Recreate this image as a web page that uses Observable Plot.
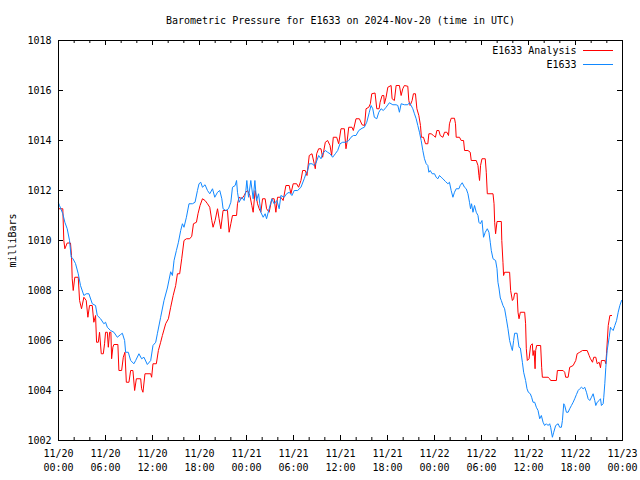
<!DOCTYPE html>
<html><head><meta charset="utf-8">
<script src="https://cdn.jsdelivr.net/npm/d3@7"></script>
<script src="https://cdn.jsdelivr.net/npm/@observablehq/plot@0.6"></script>
<style>body{margin:0;background:#fff}</style>
</head><body><div id="chart"></div><script>
const titleText = "Barometric Pressure for E1633 on 2024-Nov-20 (time in UTC)";
const yLabelText = "milliBars";
const seriesNames = ["E1633 Analysis", "E1633"];
const startUTC = Date.UTC(2024, 10, 20);

// hours since 2024-11-20 00:00 UTC
const analysisHours = [
0, 0.55, 0.68, 0.81, 1.11, 1.53, 1.66, 1.75, 1.88, 2.08,
2.52, 2.69, 2.94, 3.24, 3.54, 3.75, 3.96, 4.31, 4.51, 4.73,
4.86, 5.08, 5.24, 5.46, 5.72, 5.88, 6.01, 6.23, 6.36, 6.52,
6.69, 6.78, 6.94, 7.07, 7.58, 7.71, 8.06, 8.27, 8.48, 8.66,
8.99, 9.21, 9.50, 9.72, 9.94, 10.49, 10.61, 10.78, 11.04, 11.77,
11.89, 12.06, 12.49, 12.75, 13.04, 13.26, 13.68, 14.03, 14.32, 14.64,
14.96, 15.18, 15.47, 15.73, 16.02, 16.33, 16.75, 17.01, 17.23, 17.61,
17.81, 18.07, 18.38, 18.71, 19.02, 19.31, 19.57, 19.73, 19.99, 20.30,
20.50, 20.72, 21.01, 21.57, 21.78, 22.0, 22.21, 22.73, 22.85, 23.06,
23.40, 23.70, 23.92, 24.13, 24.43, 24.68, 24.85, 25.10, 25.41, 25.62,
25.83, 26.05, 26.38, 26.56, 26.89, 27.24, 27.53, 27.75, 27.96, 28.39,
28.68, 29.03, 29.45, 29.67, 29.96, 30.40, 30.65, 30.95, 31.17, 31.50,
31.72, 32.01, 32.36, 32.65, 32.78, 32.96, 33.21, 33.51, 33.72, 34.06,
34.36, 34.66, 34.87, 35.08, 35.51, 35.77, 36.06, 36.49, 36.70, 36.83,
37.05, 37.47, 37.64, 37.98, 38.41, 38.75, 39.07, 39.26, 39.61, 39.81,
39.99, 40.41, 40.63, 40.93, 41.06, 41.31, 41.53, 41.60, 41.82, 42.04,
42.46, 42.59, 42.88, 43.10, 43.52, 43.74, 43.95, 44.16, 44.59, 44.72,
44.89, 45.14, 45.31, 45.57, 45.75, 46.0, 46.21, 46.33, 46.59, 46.85,
47.15, 47.28, 47.57, 47.87, 48.12, 48.30, 48.56, 48.73, 49.07, 49.28,
49.58, 49.79, 49.91, 50.13, 50.55, 50.68, 50.77, 51.19, 51.41, 51.71,
51.84, 52.27, 52.56, 52.69, 53.33, 53.55, 53.67, 53.75, 53.88, 54.06,
54.48, 54.61, 54.74, 55.47, 55.60, 55.68, 55.80, 55.98, 56.53, 56.59,
56.74, 56.82, 56.95, 57.59, 57.72, 57.94, 58.10, 58.23, 58.54, 58.66,
58.79, 58.96, 59.51, 59.63, 59.72, 59.85, 60.07, 60.27, 60.49, 60.58,
60.71, 60.84, 60.91, 61.04, 61.55, 61.68, 61.77, 62.50, 62.70, 62.83,
63.56, 63.69, 64.42, 64.62, 64.75, 65.06, 65.26, 65.70, 66.03, 66.21,
66.54, 66.89, 67.49, 67.74, 67.91, 68.17, 68.33, 68.59, 68.77, 69.02,
69.19, 69.31, 69.74, 69.87, 69.96, 70.18, 70.39, 70.61
];
const analysisValues = [
1011.27, 1011.27, 1010.0, 1009.67, 1009.9, 1009.9, 1009.4, 1008.47, 1008.0, 1008.53,
1008.53, 1007.6, 1007.27, 1007.73, 1007.6, 1006.93, 1007.4, 1007.4, 1006.73, 1007.0,
1005.93, 1005.93, 1006.33, 1005.47, 1005.47, 1005.87, 1006.33, 1006.33, 1005.73, 1006.33,
1006.33, 1005.27, 1005.73, 1005.84, 1005.84, 1004.8, 1004.8, 1005.33, 1005.53, 1004.33,
1004.33, 1004.8, 1004.8, 1004.0, 1004.47, 1004.47, 1004.07, 1003.93, 1004.67, 1004.67,
1004.53, 1005.07, 1005.07, 1005.6, 1005.93, 1006.2, 1006.67, 1006.87, 1007.33, 1007.8,
1008.2, 1008.67, 1008.67, 1009.27, 1010.0, 1010.07, 1010.07, 1010.17, 1010.67, 1010.73,
1011.07, 1011.4, 1011.67, 1011.6, 1011.47, 1011.33, 1010.8, 1010.53, 1010.8, 1011.27,
1010.87, 1010.47, 1011.2, 1011.2, 1010.33, 1010.67, 1011.0, 1011.0, 1011.47, 1011.73,
1011.67, 1011.8, 1011.93, 1012.0, 1011.8, 1011.4, 1011.13, 1012.0, 1011.47, 1011.27,
1011.13, 1011.67, 1011.67, 1011.27, 1011.13, 1011.67, 1011.67, 1011.13, 1011.73, 1011.73,
1011.6, 1012.2, 1012.2, 1011.87, 1012.27, 1012.27, 1012.13, 1012.4, 1012.8, 1012.8,
1012.6, 1013.4, 1013.47, 1013.07, 1012.87, 1013.47, 1013.67, 1013.67, 1013.33, 1013.93,
1014.0, 1013.8, 1013.4, 1014.13, 1014.13, 1013.87, 1014.47, 1014.47, 1013.67, 1013.93,
1014.53, 1014.53, 1014.4, 1014.87, 1014.87, 1014.63, 1014.6, 1015.27, 1015.33, 1015.47,
1015.87, 1015.9, 1015.27, 1015.27, 1015.53, 1015.8, 1015.8, 1015.47, 1015.73, 1016.13,
1016.2, 1015.67, 1015.6, 1016.2, 1016.2, 1015.8, 1016.07, 1016.2, 1016.17, 1015.6,
1015.4, 1015.6, 1015.87, 1015.87, 1015.27, 1015.0, 1014.6, 1014.13, 1014.13, 1013.87,
1013.87, 1014.27, 1014.27, 1014.2, 1014.13, 1014.4, 1014.4, 1014.2, 1014.13, 1014.33,
1014.33, 1014.2, 1014.67, 1014.89, 1014.89, 1014.67, 1014.13, 1014.13, 1014.0, 1014.0,
1013.6, 1013.6, 1013.53, 1013.2, 1013.2, 1013.0, 1012.6, 1012.4, 1013.0, 1013.27,
1013.27, 1012.73, 1011.87, 1011.87, 1011.47, 1010.73, 1010.27, 1010.76, 1010.76, 1010.0,
1009.13, 1008.6, 1008.73, 1008.73, 1008.0, 1007.6, 1007.67, 1007.89, 1007.89, 1007.13,
1006.87, 1007.13, 1007.13, 1006.67, 1005.67, 1005.2, 1005.27, 1005.8, 1005.87, 1005.4,
1005.6, 1004.87, 1005.6, 1005.8, 1005.8, 1004.93, 1004.53, 1004.53, 1004.47, 1004.4,
1004.4, 1004.8, 1004.8, 1004.73, 1004.53, 1004.53, 1004.93, 1005.0, 1005.2, 1005.47,
1005.53, 1005.6, 1005.6, 1005.4, 1005.27, 1005.13, 1005.33, 1005.33, 1005.07, 1005.13,
1004.91, 1005.2, 1005.2, 1005.07, 1005.47, 1006.6, 1007.0, 1007.0
];

const stationHours = [
0, 0.13, 0.55, 0.81, 1.11, 1.41, 1.62, 1.83, 2.17, 2.52,
2.81, 3.24, 3.54, 3.88, 4.31, 4.73, 4.95, 5.37, 5.79, 6.01,
6.23, 6.65, 7.07, 7.51, 7.93, 8.15, 8.44, 8.57, 8.91, 9.21,
9.63, 9.85, 10.27, 10.61, 10.91, 11.34, 11.77, 12.06, 12.41, 12.62,
13.04, 13.47, 13.90, 14.32, 14.54, 14.75, 15.05, 15.31, 15.6, 15.82,
16.02, 16.33, 16.66, 17.10, 17.43, 17.74, 17.94, 18.16, 18.38, 18.71,
19.02, 19.31, 19.66, 19.95, 20.30, 20.59, 20.85, 21.01, 21.36, 21.70,
22.0, 22.21, 22.55, 22.73, 22.85, 23.06, 23.40, 23.70, 23.92, 24.04,
24.26, 24.55, 24.85, 25.07, 25.28, 25.54, 25.83, 26.13, 26.38, 26.56,
26.89, 27.24, 27.53, 27.88, 28.17, 28.39, 28.81, 29.12, 29.45, 29.80,
30.09, 30.53, 30.95, 31.37, 31.59, 31.81, 32.01, 32.36, 32.65, 32.87,
33.21, 33.51, 33.72, 34.06, 34.36, 34.66, 35.0, 35.34, 35.64, 35.94,
36.28, 36.70, 37.05, 37.34, 37.64, 37.98, 38.33, 38.75, 39.04, 39.35,
39.68, 39.90, 40.12, 40.32, 40.63, 40.89, 41.18, 41.47, 41.82, 42.24,
42.68, 43.10, 43.32, 43.52, 43.74, 44.16, 44.59, 44.80, 45.02, 45.23,
45.44, 45.66, 45.87, 46.08, 46.30, 46.51, 46.72, 46.94, 47.15, 47.28,
47.45, 47.70, 48.0, 48.21, 48.43, 48.64, 48.85, 49.07, 49.40, 49.71,
49.91, 50.13, 50.35, 50.55, 50.77, 51.12, 51.28, 51.54, 51.83, 52.05,
52.27, 52.47, 52.60, 52.73, 52.91, 53.11, 53.33, 53.55, 53.67, 53.84,
54.06, 54.26, 54.48, 54.74, 54.95, 55.12, 55.25, 55.47, 55.80, 55.98,
56.10, 56.23, 56.40, 56.53, 56.74, 56.95, 57.17, 57.38, 57.59, 57.81,
57.94, 58.10, 58.23, 58.54, 58.79, 58.96, 59.22, 59.38, 59.63, 59.81,
59.98, 60.23, 60.40, 60.58, 60.79, 61.0, 61.22, 61.43, 61.64, 61.86,
62.06, 62.28, 62.50, 62.70, 62.83, 63.05, 63.22, 63.47, 63.78, 63.98,
64.20, 64.33, 64.50, 64.62, 64.84, 65.06, 65.26, 65.48, 65.70, 65.90,
66.12, 66.34, 66.54, 66.76, 66.98, 67.18, 67.40, 67.61, 67.82, 68.04,
68.25, 68.46, 68.59, 68.77, 69.02, 69.19, 69.31, 69.53, 69.61, 69.74,
69.87, 70.04, 70.30, 70.47, 70.59, 70.81, 71.02, 71.24, 71.45, 71.66,
71.88
];
const stationValues = [
1011.5, 1011.4, 1011.07, 1010.73, 1010.47, 1010.0, 1009.33, 1009.28, 1009.08, 1008.67,
1008.2, 1007.8, 1007.87, 1007.87, 1007.47, 1007.4, 1007.0, 1006.87, 1006.67, 1006.73,
1006.53, 1006.4, 1006.33, 1006.13, 1006.24, 1006.29, 1006.0, 1005.53, 1005.53, 1005.2,
1005.07, 1005.2, 1005.47, 1005.27, 1005.33, 1005.04, 1005.2, 1005.8, 1005.93, 1006.27,
1006.93, 1007.6, 1008.1, 1008.75, 1008.6, 1009.2, 1009.6, 1009.93, 1010.4, 1010.67,
1010.53, 1010.93, 1011.47, 1011.47, 1011.53, 1012.0, 1012.27, 1012.33, 1012.13, 1012.23,
1012.0, 1011.87, 1012.07, 1011.73, 1011.93, 1012.0, 1011.67, 1011.27, 1011.2, 1011.27,
1011.53, 1012.13, 1012.2, 1012.4, 1011.93, 1011.53, 1011.73, 1011.6, 1012.0, 1012.4,
1011.73, 1012.4, 1011.67, 1012.4, 1011.6, 1011.87, 1011.13, 1010.93, 1011.07, 1010.87,
1011.27, 1011.67, 1011.47, 1011.6, 1011.27, 1011.8, 1011.73, 1011.87, 1011.93, 1011.8,
1012.0, 1012.0, 1012.13, 1012.47, 1012.67, 1012.8, 1013.07, 1013.07, 1013.0, 1013.1,
1013.4, 1013.27, 1013.47, 1013.6, 1013.53, 1013.47, 1013.33, 1013.47, 1013.6, 1013.87,
1013.93, 1013.93, 1014.0, 1014.13, 1014.2, 1014.2, 1014.4, 1014.49, 1014.53, 1014.73,
1015.13, 1015.4, 1015.27, 1014.93, 1014.87, 1015.13, 1015.27, 1015.2, 1015.33, 1015.51,
1015.43, 1015.43, 1015.4, 1015.13, 1015.47, 1015.43, 1015.43, 1015.51, 1015.4, 1015.27,
1015.07, 1014.87, 1014.6, 1014.33, 1014.0, 1013.6, 1013.27, 1013.07, 1013.0, 1012.73,
1012.8, 1012.67, 1012.67, 1012.53, 1012.47, 1012.6, 1012.53, 1012.47, 1012.36, 1012.27,
1012.33, 1012.0, 1011.73, 1011.93, 1012.07, 1012.07, 1012.2, 1012.31, 1012.13, 1012.07,
1011.87, 1011.53, 1011.27, 1011.47, 1011.13, 1011.4, 1011.13, 1011.0, 1010.73, 1010.67,
1010.8, 1010.13, 1010.33, 1010.47, 1010.33, 1009.93, 1009.6, 1009.27, 1009.2, 1008.87,
1008.33, 1008.1, 1007.7, 1007.6, 1007.4, 1007.27, 1006.87, 1006.47, 1006.0, 1005.73,
1005.6, 1006.0, 1006.29, 1006.29, 1005.73, 1005.7, 1005.13, 1004.73, 1004.4, 1004.07,
1003.93, 1003.87, 1003.73, 1003.53, 1003.53, 1003.33, 1003.2, 1002.87, 1003.0, 1002.73,
1002.6, 1002.67, 1002.6, 1002.67, 1002.53, 1002.13, 1002.33, 1002.6, 1002.67, 1002.53,
1002.53, 1002.8, 1003.47, 1003.4, 1003.13, 1003.13, 1003.27, 1003.4, 1003.53, 1003.67,
1003.84, 1004.0, 1004.07, 1004.13, 1004.07, 1004.13, 1003.93, 1003.67, 1003.6, 1003.73,
1003.87, 1003.6, 1003.4, 1003.53, 1003.6, 1003.67, 1003.4, 1003.47, 1003.73, 1004.27,
1004.93, 1005.6, 1006.13, 1006.53, 1006.47, 1006.4, 1006.6, 1006.8, 1007.13, 1007.4,
1007.6
];

const yTickValues = [1002, 1004, 1006, 1008, 1010, 1012, 1014, 1016, 1018];
const xMajorHours = [0, 6, 12, 18, 24, 30, 36, 42, 48, 54, 60, 66, 72];
const xMinorHours = d3.range(0, 73, 2);

const toDate = h => new Date(startUTC + h * 3600e3);
const analysis = analysisHours.map((h, i) => ({t: toDate(h), v: analysisValues[i]}));
const station = stationHours.map((h, i) => ({t: toDate(h), v: stationValues[i]}));
const majorDates = xMajorHours.map(toDate);
const minorDates = xMinorHours.map(toDate);
const pad = n => String(n).padStart(2, "0");
const fmtTick = d => `${d.getUTCMonth() + 1}/${d.getUTCDate()}\n${pad(d.getUTCHours())}:${pad(d.getUTCMinutes())}`;

const W = 640, H = 480, mL = 58, mR = 18, mT = 40, mB = 40;
const innerW = W - mL - mR, innerH = H - mT - mB;
const red = "#ff0000", blue = "#1188ff";

const chart = Plot.plot({
  width: W, height: H,
  marginLeft: mL, marginRight: mR, marginTop: mT, marginBottom: mB,
  style: {fontFamily: "'DejaVu Sans Mono', monospace", fontSize: "10px", background: "#fff", color: "#000"},
  x: {type: "utc", domain: [toDate(0), toDate(72)], axis: null},
  y: {domain: [1002, 1018], axis: null},
  marks: [
    Plot.line(analysis, {x: "t", y: "v", stroke: red, strokeWidth: 1}),
    Plot.line(station, {x: "t", y: "v", stroke: blue, strokeWidth: 1}),
    Plot.frame({stroke: "#000"}),
    Plot.tickX(minorDates, {x: d => d, insetTop: innerH - 3, stroke: "#000"}),
    Plot.tickX(minorDates, {x: d => d, insetBottom: innerH - 3, stroke: "#000"}),
    Plot.tickX(majorDates, {x: d => d, insetTop: innerH - 5, stroke: "#000"}),
    Plot.tickX(majorDates, {x: d => d, insetBottom: innerH - 5, stroke: "#000"}),
    Plot.tickY(yTickValues, {y: d => d, insetRight: innerW - 5, stroke: "#000"}),
    Plot.tickY(yTickValues, {y: d => d, insetLeft: innerW - 5, stroke: "#000"}),
    Plot.text(yTickValues, {y: d => d, frameAnchor: "left", dx: -7, textAnchor: "end", lineAnchor: "middle", text: d => String(d)}),
    Plot.text(majorDates, {x: d => d, frameAnchor: "bottom", dy: 7, lineAnchor: "top", lineHeight: 1.4, textAnchor: "middle", text: fmtTick}),
    Plot.text([titleText], {frameAnchor: "top", dy: -20, lineAnchor: "middle", textAnchor: "middle"}),
    Plot.text([yLabelText], {frameAnchor: "left", dx: -46, rotate: -90, lineAnchor: "middle", textAnchor: "middle"}),
    Plot.text([seriesNames[0]], {frameAnchor: "top-right", dx: -46, dy: 10, lineAnchor: "middle", textAnchor: "end"}),
    Plot.text([seriesNames[1]], {frameAnchor: "top-right", dx: -46, dy: 24, lineAnchor: "middle", textAnchor: "end"})
  ]
});

// legend swatches next to the legend labels
const svg = d3.select(chart);
[[red, 10], [blue, 24]].forEach(([c, dy]) => {
  svg.append("line")
    .attr("x1", W - mR - 39).attr("x2", W - mR - 9)
    .attr("y1", mT + dy + 0.5).attr("y2", mT + dy + 0.5)
    .attr("stroke", c).attr("stroke-width", 1);
});
document.getElementById("chart").appendChild(chart);
</script></body></html>
